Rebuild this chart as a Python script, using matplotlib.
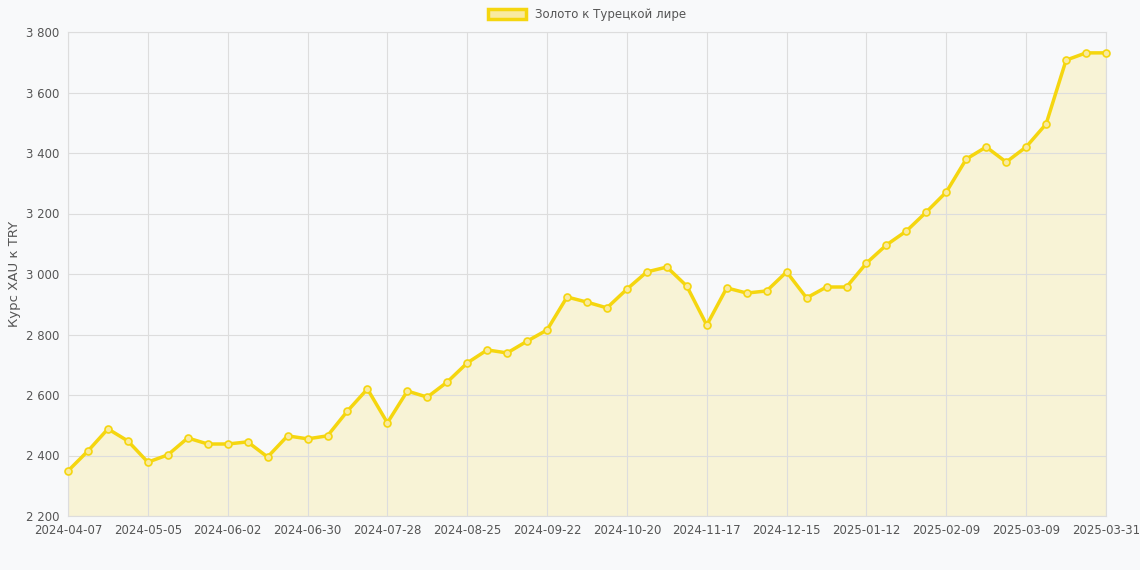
import matplotlib
matplotlib.use("Agg")
import matplotlib.pyplot as plt
from matplotlib.ticker import FuncFormatter
from matplotlib.patches import Patch
from datetime import date, timedelta

# weekly dates, last point is 2025-03-31
start = date(2024, 4, 7)
dates = [start + timedelta(weeks=i) for i in range(52)] + [date(2025, 3, 31)]
labels = [d.isoformat() for d in dates]

prices = [2349, 2415, 2488, 2448, 2378, 2402, 2458, 2438, 2438, 2445,
          2395, 2465, 2455, 2465, 2547, 2620, 2508, 2613, 2593, 2643,
          2706, 2749, 2739, 2778, 2815, 2924, 2907, 2888, 2950, 3007,
          3023, 2960, 2831, 2954, 2937, 2944, 3007, 2921, 2957, 2957,
          3036, 3096, 3142, 3205, 3271, 3380, 3420, 3370, 3420, 3496,
          3707, 3731, 3731]

line_col = "#f5d60f"
fill_col = "#f8f3d6"
bg = "#f8f9fa"

fig = plt.figure(figsize=(11.4, 5.7), dpi=100, facecolor=bg)
ax = fig.add_axes([68 / 1140, 1 - 516 / 570, (1106 - 68) / 1140, (516 - 32) / 570])
ax.set_facecolor(bg)

x = list(range(len(prices)))
ax.fill_between(x, prices, 2200, color=fill_col, zorder=1)
ax.plot(x, prices, color=line_col, lw=2.5, marker="o", ms=5,
        mfc="#f9eaa0", mec=line_col, mew=1.2, zorder=3, clip_on=False)

ax.set_xlim(0, len(prices) - 1)
ax.set_ylim(2200, 3800)
ax.set_yticks(range(2200, 3801, 200))
ax.yaxis.set_major_formatter(FuncFormatter(lambda v, p: f"{int(v):,}".replace(",", " ")))
ticks = list(range(0, 49, 4)) + [len(prices) - 1]
ax.set_xticks(ticks)
ax.set_xticklabels([labels[i] for i in ticks])
ax.grid(True, color="#dddddd", lw=0.8, zorder=0)
for s in ax.spines.values():
    s.set_color("#dddddd")
ax.tick_params(colors="#555555", labelsize=8.5, length=0, pad=6)
ax.set_ylabel("Курс XAU к TRY", color="#555555", fontsize=9.5, labelpad=4)

handle = Patch(facecolor="#f9eaa0", edgecolor=line_col, lw=2.5, label="Золото к Турецкой лире")
ax.legend(handles=[handle], loc="lower center", bbox_to_anchor=(0.5, 1.0), frameon=False,
          fontsize=8.5, handlelength=3.2, handleheight=0.9, labelcolor="#555555")

fig.savefig("out.png", dpi=100, facecolor=bg)
